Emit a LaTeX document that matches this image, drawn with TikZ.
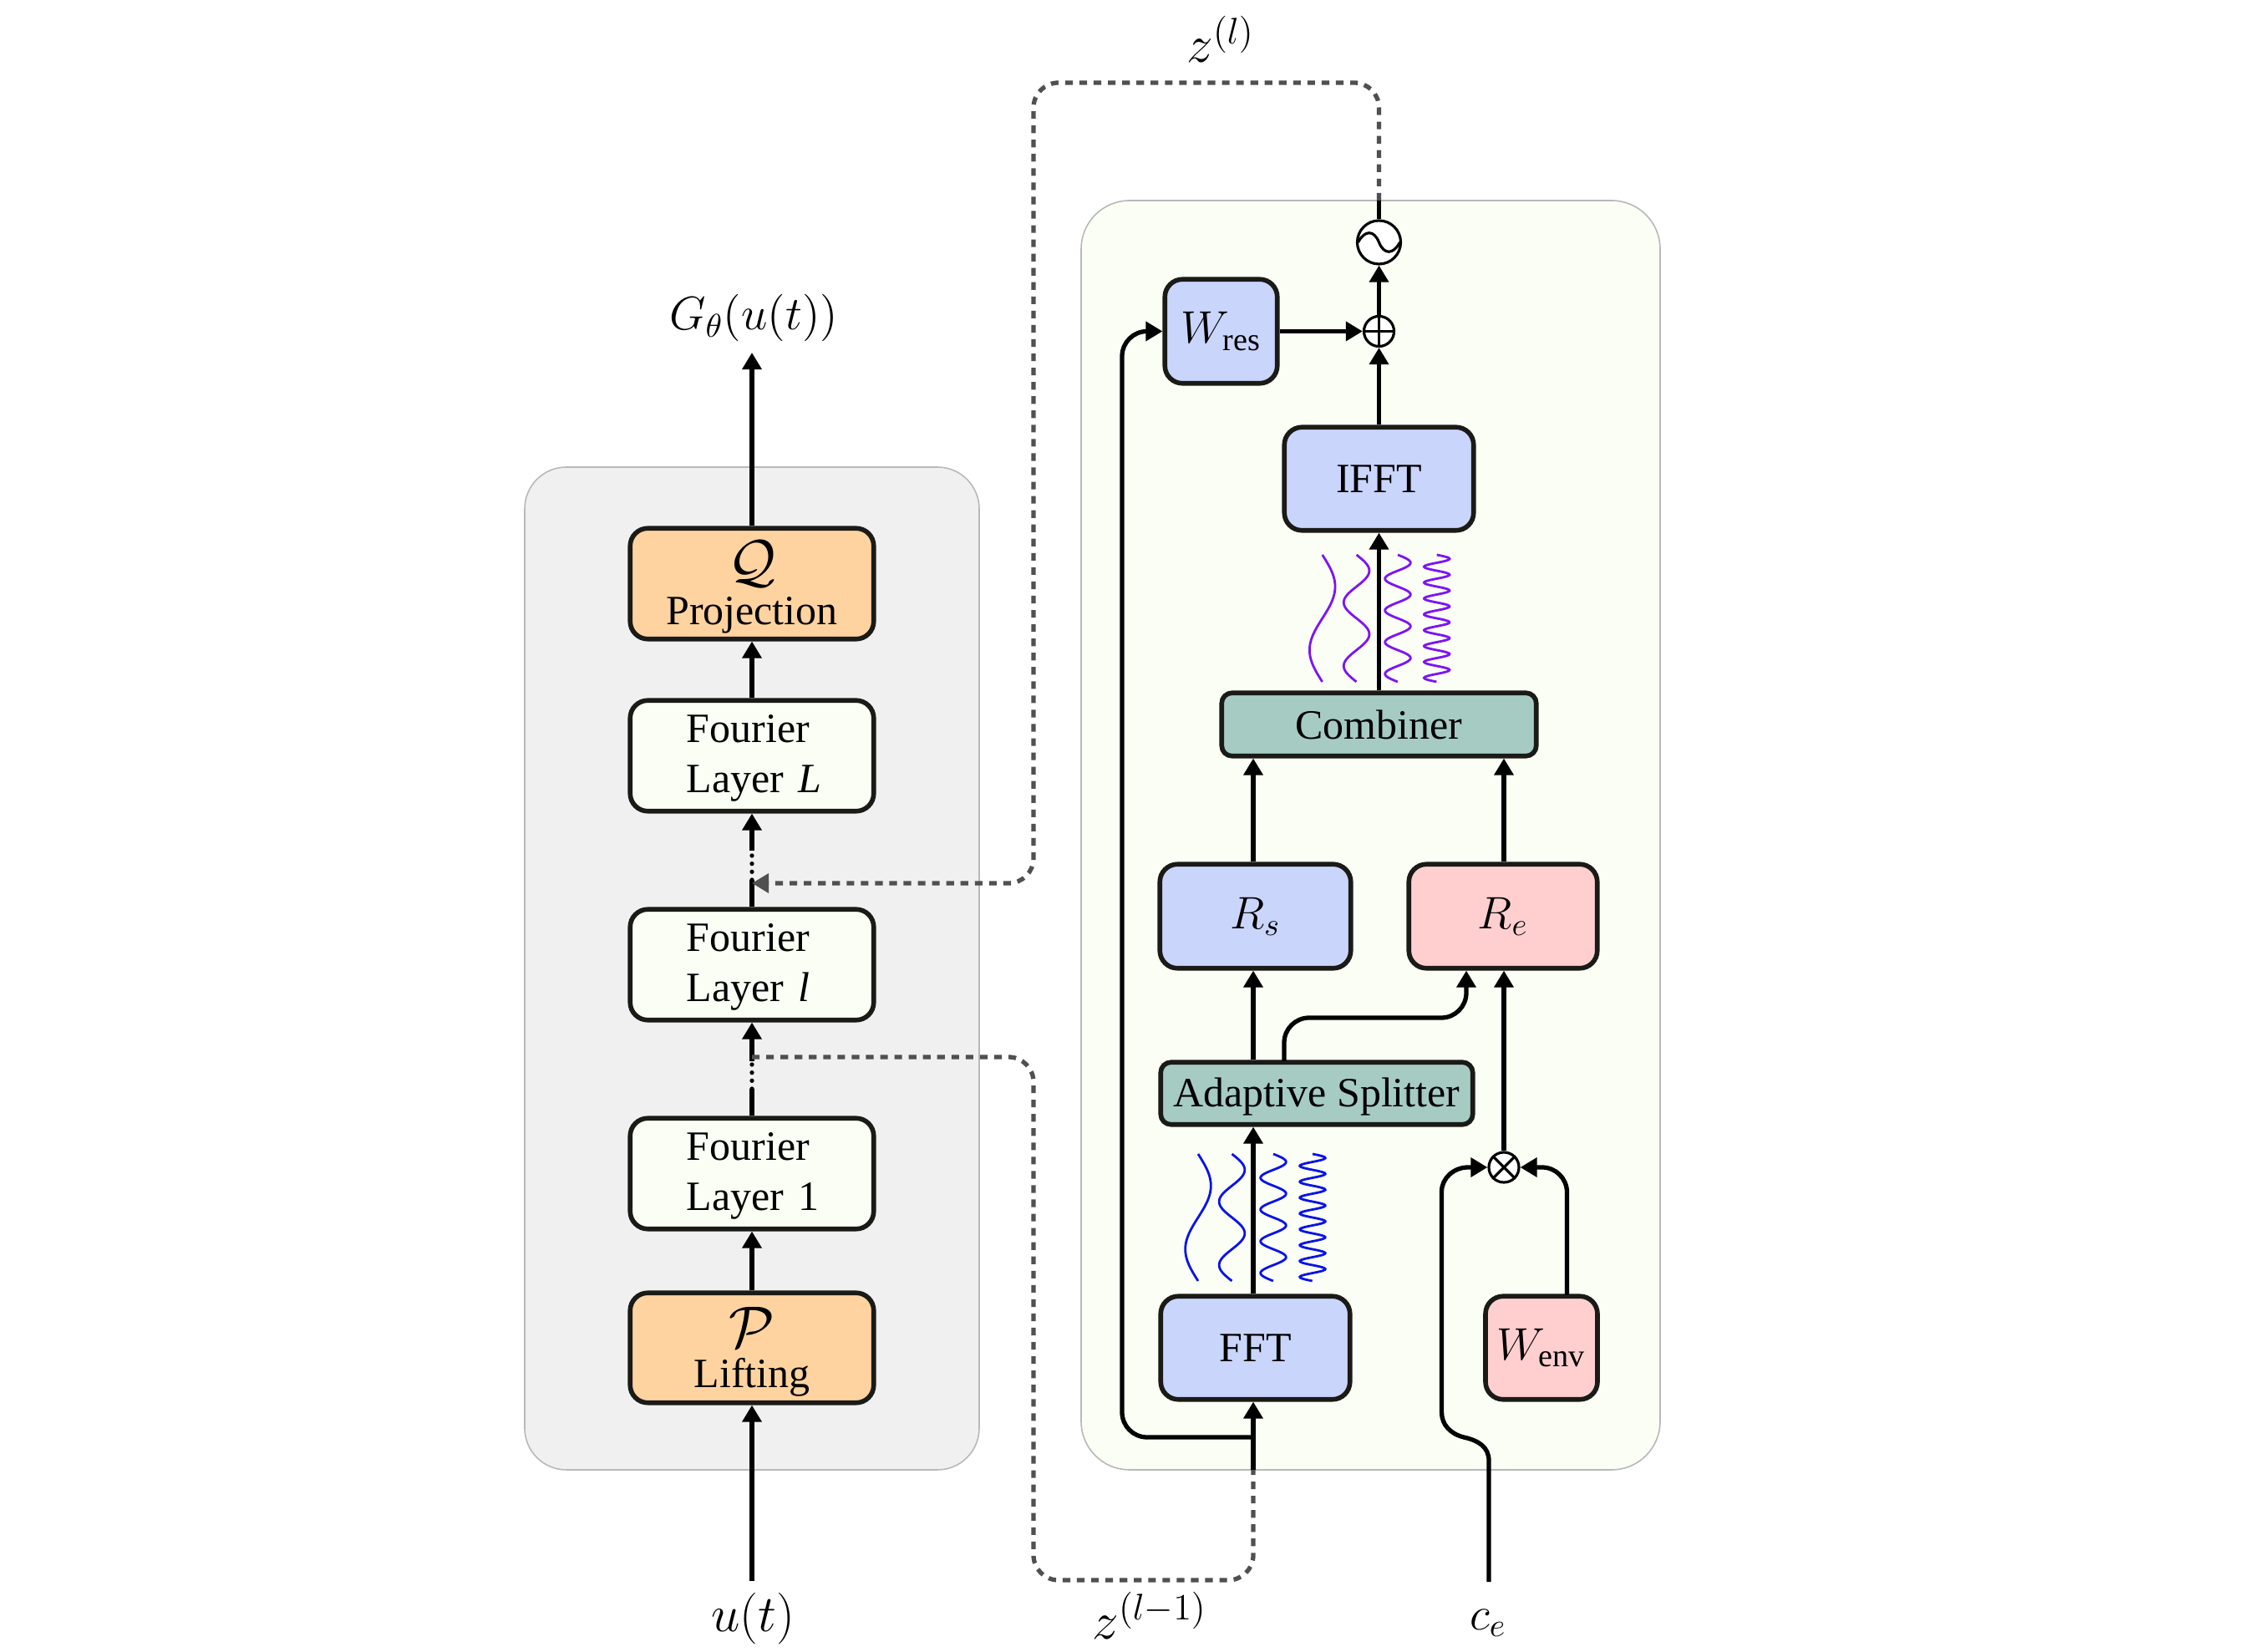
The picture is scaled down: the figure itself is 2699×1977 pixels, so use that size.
\RequirePackage{fix-cm}
\documentclass[tikz,border=0pt]{standalone}
\usepackage{fontspec}
\setmainfont{Liberation Serif}
\usetikzlibrary{arrows.meta,calc}
\definecolor{panelgray}{HTML}{F0F0F0}
\definecolor{panelivory}{HTML}{FBFEF5}
\definecolor{panelline}{HTML}{B8B8B8}
\definecolor{orangebox}{HTML}{FFD39F}
\definecolor{bluebox}{HTML}{CAD5FB}
\definecolor{pinkbox}{HTML}{FFCFCF}
\definecolor{tealbox}{HTML}{A5CBC3}
\definecolor{boxline}{HTML}{1A1A16}
\definecolor{dashgray}{HTML}{505050}
\definecolor{wavepurple}{HTML}{7D14F5}
\definecolor{waveblue}{HTML}{0A14E6}
\newcommand{\topfix}[1]{\rule{0pt}{#1pt}}
\tikzset{
  x=0.01cm, y=-0.01cm,
  panel/.style={draw=panelline, line width=0.45pt},
  sz/.style 2 args={minimum width=#1*0.01cm+0.025cm, minimum height=#2*0.01cm+0.025cm},
  box/.style={draw=boxline, line width=1.6pt, rounded corners=6pt, inner sep=0pt,
    align=center, font=\fontsize{14.2}{17.07}\selectfont},
  layerbox/.style={box, fill=panelivory, sz={289}{130}, text width=1.56cm, align=left},
  thinbox/.style={box, rounded corners=3.5pt},
  mathbox/.style={box, font=\fontsize{15.5}{18}\selectfont},
  conn/.style={draw=black, line width=1.5pt},
  arr/.style={conn, -{Triangle[length=5.7pt,width=6.4pt]}},
  dotsline/.style={draw=black, line width=1.5pt, line cap=round, dash pattern=on 0pt off 2.75pt},
  zline/.style={draw=dashgray, line width=1.5pt, dash pattern=on 2.6pt off 2.25pt, rounded corners=8.5pt},
  zarr/.style={zline, -{Triangle[length=5.7pt,width=6.4pt,fill=dashgray]}},
  op/.style={circle, draw=black, fill=white, line width=0.9pt, inner sep=0pt},
  oplin/.style={draw=black, line width=0.9pt},
  lab/.style={font=\fontsize{16}{19}\selectfont, anchor=base, inner sep=0pt},
  zlab/.style={lab, font=\fontsize{18}{21}\selectfont},
  ulab/.style={lab, font=\fontsize{17.5}{21}\selectfont},
  wave/.style={line width=0.8pt, domain=0:1, samples=160},
}
\begin{document}
\begin{tikzpicture}
\useasboundingbox (0,0) rectangle (2699,1977);
% panels
\draw[panel, fill=panelgray, rounded corners=14.2pt] (628,559) rectangle (1172,1759);
\draw[panel, fill=panelivory, rounded corners=16.5pt] (1294,240) rectangle (1987,1759);
% left column
\node[box, fill=orangebox, sz={289}{130}] (proj) at (900,698.5) {\topfix{16}{\fontsize{20}{20}\selectfont$\mathcal{Q}$}\\[-2.4pt]Projection};
\node[layerbox] (fL) at (900,904.5) {\topfix{11}\mbox{Fourier}\\\mbox{Layer \textit{L}}};
\node[layerbox] (fl) at (900,1154.5) {\topfix{11}\mbox{Fourier}\\\mbox{Layer \textit{l}}};
\node[layerbox] (f1) at (900,1404.5) {\topfix{11}\mbox{Fourier}\\\mbox{Layer 1}};
\node[box, fill=orangebox, sz={289}{129}] (lift) at (900,1613) {\topfix{16.5}{\fontsize{20}{20}\selectfont$\mathcal{P}$}\\[-3.4pt]Lifting};
% right column
\node[mathbox, fill=bluebox, sz={132}{122}] (wres) at (1461.5,396.5) {$W_{\mathrm{res}}$};
\node[box, fill=bluebox, sz={224}{121}] (ifft) at (1650.5,573) {IFFT};
\node[thinbox, fill=tealbox, sz={374}{73}] (comb) at (1650.5,867) {Combiner};
\node[mathbox, fill=bluebox, sz={226}{122}] (rs) at (1502.5,1096.5) {$R_s$};
\node[mathbox, fill=pinkbox, sz={223}{122}] (re) at (1799,1096.5) {$R_e$};
\node[thinbox, fill=tealbox, sz={371}{72}] (split) at (1576,1308.5) {\topfix{12}Adaptive Splitter};
\node[box, fill=bluebox, sz={224}{121}] (fft) at (1502.5,1613) {FFT};
\node[mathbox, fill=pinkbox, sz={131.5}{121}] (wenv) at (1845,1613) {$W_{\mathrm{env}}$};
% operators
\node[op, minimum size=0.52cm] (sine) at (1650.5,290) {};
\draw[oplin] ($(sine.center)+(-25,0)$) .. controls ($(sine.center)+(-17,-15)$) and ($(sine.center)+(-6,-15)$) .. (sine.center) .. controls ($(sine.center)+(6,15)$) and ($(sine.center)+(17,15)$) .. ($(sine.center)+(25,0)$);
\node[op, minimum size=0.36cm] (plus) at (1650.5,396.5) {};
\draw[oplin] (plus.west) -- (plus.east) (plus.north) -- (plus.south);
\node[op, minimum size=0.36cm] (times) at (1800,1397) {};
\draw[oplin] (times.north west) -- (times.south east) (times.north east) -- (times.south west);
% labels
\node[lab] (Gout) at (902,395) {$G_\theta(u(t))$};
\node[ulab] (uin) at (901,1952) {$u(t)$};
\node[zlab] (zl) at (1461,75) {$z^{(l)}$};
\node[zlab] (zlm) at (1376,1961) {$z^{(l-1)}$};
\node[lab] (cel) at (1781,1950) {$c_e$};
% named points
\coordinate (Gtip) at (900,422);
\coordinate (utail) at (900,1892);
\coordinate (col) at (1500,0);
\coordinate (colR) at (1800,0);
\coordinate (upA) at (900,1053);
\coordinate (upB) at (900,1018);
\coordinate (loA) at (900,1303);
\coordinate (loB) at (900,1270);
\coordinate (loT) at (900,1265);
\coordinate (upT) at (900,1057);
\coordinate (zTopR) at (1650.5,99);
\coordinate (zTopL) at (1237,99);
\coordinate (panelT) at (1650.5,240);
\coordinate (zBotL) at (1237,1891);
\coordinate (zBotR) at (1500,1891);
\coordinate (zLoR) at (1237,1265);
\coordinate (zUpR) at (1237,1057);
\coordinate (panelB) at (1500,1759);
\coordinate (brS) at (1500,1720);
\coordinate (brC) at (1343,1720);
\coordinate (spOut) at (1537,1270);
\coordinate (spC) at (1755,1218);
\coordinate (ceT) at (1782,1893);
\coordinate (wenvOut) at (1875.5,1550);
% left connectors
\draw[arr] (utail) -- (lift.south);
\draw[arr] (lift.north) -- (f1.south);
\draw[conn] (f1.north) -- (loA);
\draw[dotsline] (loA) -- (loB);
\draw[arr] (loB) -- (fl.south);
\draw[conn] (fl.north) -- (upA);
\draw[dotsline] (upA) -- (upB);
\draw[arr] (upB) -- (fL.south);
\draw[arr] (fL.north) -- (proj.south);
\draw[arr] (proj.north) -- (Gtip);
% dashed feedback lines
\draw[zarr] (panelT) -- (zTopR) -- (zTopL) -- (zUpR) -- (upT);
\draw[zline] (loT) -- (zLoR) -- (zBotL) -- (zBotR) -- (panelB);
% right connectors
\draw[arr] (panelB) -- (col |- fft.south);
\draw[arr, rounded corners=8.5pt] (brS) -- (brC) |- (wres.west);
\draw[arr] (col |- fft.north) -- (col |- split.south);
\draw[arr] (col |- split.north) -- (col |- rs.south);
\draw[arr, rounded corners=8.5pt] (spOut) |- (spC) -- (spC |- re.south);
\draw[arr] (col |- rs.north) -- (col |- comb.south);
\draw[arr] (colR |- re.north) -- (colR |- comb.south);
\draw[arr] (times.north) -- (colR |- re.south);
\draw[arr] (comb.north) -- (ifft.south);
\draw[arr] (ifft.north) -- (plus.south);
\draw[arr] (wres.east) -- (plus.west);
\draw[arr] (plus.north) -- (sine.south);
\draw[conn] (sine.north) -- (panelT);
\draw[arr] (ceT) -- (1782,1748) .. controls (1782,1732) and (1770,1724) .. (1752,1720) .. controls (1736,1716) and (1725.5,1705) .. (1725.5,1690) -- (1725.5,1426) .. controls (1725.5,1410) and (1740,1397) .. (1757,1397) -- (times.west);
\draw[arr, rounded corners=8.5pt] (wenvOut) |- (times.east);
% waves
\foreach \cx/\n in {1582.7/1, 1623.6/2, 1673/4, 1719.7/8}
  \draw[wave, wavepurple] plot ({\cx+15.3*sin(360*\n*\x)}, {664+152*\x});
\foreach \cx/\n in {1434/1, 1474.5/2, 1524/4, 1571/8}
  \draw[wave, waveblue] plot ({\cx+15.3*sin(360*\n*\x)}, {1381+152*\x});
\end{tikzpicture}
\end{document}
